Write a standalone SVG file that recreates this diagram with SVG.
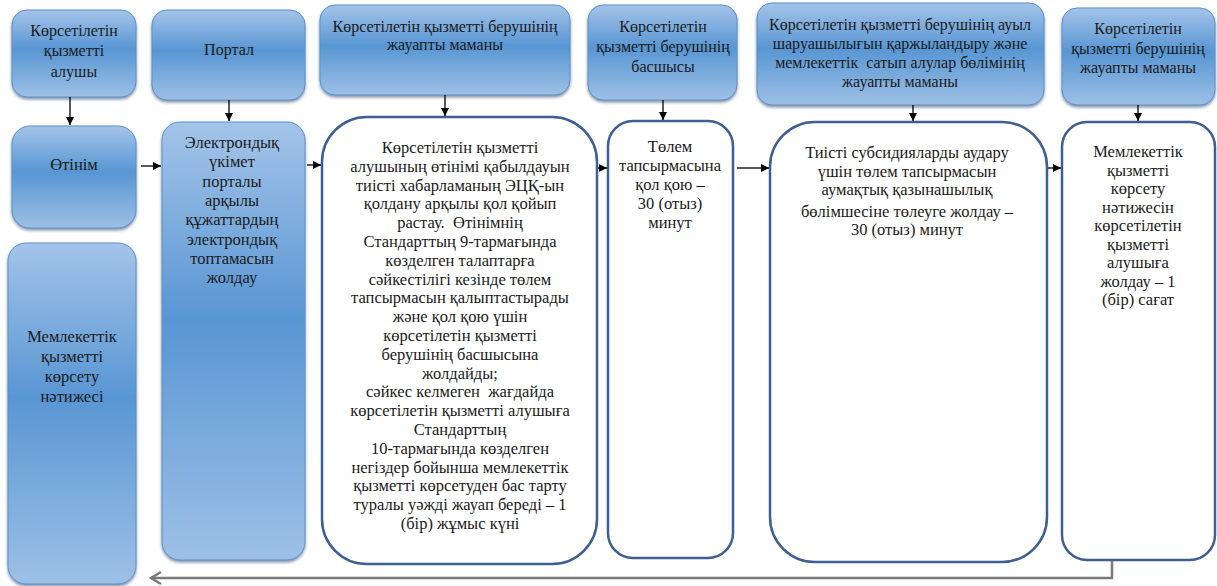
<svg xmlns="http://www.w3.org/2000/svg" width="1217" height="586" viewBox="0 0 1217 586">
<defs>
<linearGradient id="blue" x1="0" y1="0" x2="0" y2="1">
<stop offset="0" stop-color="#a4c4e9"/>
<stop offset="0.45" stop-color="#5896d3"/>
<stop offset="1" stop-color="#9dc0e6"/>
</linearGradient>
<filter id="sh" x="-10%" y="-10%" width="120%" height="120%">
<feDropShadow dx="0" dy="2" stdDeviation="1.5" flood-color="#2a4a70" flood-opacity="0.6"/>
</filter>
<marker id="ah" viewBox="0 0 10 10" refX="10" refY="5" markerWidth="8" markerHeight="8" markerUnits="userSpaceOnUse" orient="auto">
<path d="M0,0 L10,5 L0,10 z" fill="#000"/>
</marker>
</defs>
<style>
.b{fill:url(#blue);stroke:#5d8fc8;stroke-width:1;filter:url(#sh)}
.w{fill:#fff;stroke:#3d5f93;stroke-width:2.5}
text{font-family:"Liberation Serif","Times New Roman",serif;font-size:16.5px;fill:#1a1a1a;text-anchor:middle;white-space:pre}
.hd text{font-size:16px}
.c{stroke:#000;stroke-width:1.3;fill:none;marker-end:url(#ah)}
.r{stroke:#7a7a7a;stroke-width:2.5;fill:none}
</style>
<rect width="1217" height="586" fill="#fff"/>
<g class="hd">
<g id="h1"><rect class="b" x="12" y="10" width="124" height="87" rx="15"/>
<text x="74" y="36">Көрсетілетін</text><text x="74" y="56">қызметті</text><text x="74" y="77">алушы</text></g>
<g id="h2"><rect class="b" x="152" y="10" width="153" height="90" rx="15"/>
<text x="229" y="55">Портал</text></g>
<g id="h3"><rect class="b" x="320" y="5" width="250" height="90" rx="15"/>
<text x="445" y="32">Көрсетілетін қызметті берушінің</text><text x="445" y="50">жауапты маманы</text></g>
<g id="h4"><rect class="b" x="588" y="5" width="149" height="95" rx="15"/>
<text x="663" y="32">Көрсетілетін</text><text x="663" y="52">қызметті берушінің</text><text x="663" y="72">басшысы</text></g>
<g id="h5"><rect class="b" x="757" y="3" width="287" height="102" rx="15"/>
<text x="900" y="30">Көрсетілетін қызметті берушінің ауыл</text><text x="900" y="49">шаруашылығын қаржыландыру және</text><text x="900" y="68">мемлекеттік  сатып алулар бөлімінің</text><text x="900" y="87">жауапты маманы</text></g>
<g id="h6"><rect class="b" x="1062" y="8" width="153" height="97" rx="15"/>
<text x="1138" y="34">Көрсетілетін</text><text x="1138" y="54">қызметті берушінің</text><text x="1138" y="73">жауапты маманы</text></g>
</g>
<g id="n1"><rect class="b" x="12" y="126" width="124" height="102" rx="18"/>
<text x="74" y="170">Өтінім</text></g>
<g id="n2"><rect class="b" x="8" y="243" width="128" height="341" rx="18"/>
<text x="72" y="342">Мемлекеттік</text><text x="72" y="362">қызметті</text><text x="72" y="382">көрсету</text><text x="72" y="402">нәтижесі</text></g>
<g id="n3"><rect class="b" x="162" y="122" width="143" height="438" rx="18"/>
<text x="232" y="148">Электрондық</text><text x="232" y="167">үкімет</text><text x="232" y="187">порталы</text><text x="232" y="206">арқылы</text><text x="232" y="225">құжаттардың</text><text x="232" y="245">электрондық</text><text x="232" y="264">топтамасын</text><text x="232" y="283">жолдау</text></g>
<g id="n4"><rect class="w" x="322" y="117" width="275" height="447" rx="45"/>
<text x="460" y="153">Көрсетілетін қызметті</text>
<text x="460" y="171.8">алушының өтінімі қабылдауын</text>
<text x="460" y="190.6">тиісті хабарламаның ЭЦҚ-ын</text>
<text x="460" y="209.4">қолдану арқылы қол қойып</text>
<text x="460" y="228.2">растау.  Өтінімнің</text>
<text x="460" y="247">Стандарттың 9-тармағында</text>
<text x="460" y="265.8">көзделген талаптарға</text>
<text x="460" y="284.6">сәйкестілігі кезінде төлем</text>
<text x="460" y="303.4">тапсырмасын қалыптастырады</text>
<text x="460" y="322.2">және қол қою үшін</text>
<text x="460" y="341">көрсетілетін қызметті</text>
<text x="460" y="359.8">берушінің басшысына</text>
<text x="460" y="378.6">жолдайды;</text>
<text x="460" y="397.4">сәйкес келмеген  жағдайда</text>
<text x="460" y="416.2">көрсетілетін қызметті алушыға</text>
<text x="460" y="435">Стандарттың</text>
<text x="460" y="453.8">10-тармағында көзделген</text>
<text x="460" y="472.6">негіздер бойынша мемлекеттік</text>
<text x="460" y="491.4">қызметті көрсетуден бас тарту</text>
<text x="460" y="510.2">туралы уәжді жауап береді – 1</text>
<text x="460" y="529">(бір) жұмыс күні</text></g>
<g id="n5"><rect class="w" x="608" y="121" width="125" height="437" rx="25"/>
<text x="670" y="152">Төлем</text><text x="670" y="171">тапсырмасына</text><text x="670" y="190">қол қою –</text><text x="670" y="209">30 (отыз)</text><text x="670" y="228">минут</text></g>
<g id="n6"><rect class="w" x="770" y="122" width="277" height="440" rx="45"/>
<text x="907" y="158">Тиісті субсидияларды аудару</text><text x="907" y="177">үшін төлем тапсырмасын</text><text x="907" y="195">аумақтық қазынашылық</text><text x="907" y="217">бөлімшесіне төлеуге жолдау –</text><text x="907" y="235">30 (отыз) минут</text></g>
<g id="n7"><rect class="w" x="1062" y="122" width="153" height="438" rx="25"/>
<text x="1138" y="157">Мемлекеттік</text><text x="1138" y="175.5">қызметті</text><text x="1138" y="194">көрсету</text><text x="1138" y="212.5">нәтижесін</text><text x="1138" y="231">көрсетілетін</text><text x="1138" y="249.5">қызметті</text><text x="1138" y="268">алушыға</text><text x="1138" y="286.5">жолдау – 1</text><text x="1138" y="305">(бір) сағат</text></g>
<g id="connectors">
<line class="c" x1="70" y1="97" x2="70" y2="125"/>
<line class="c" x1="229" y1="100" x2="229" y2="121"/>
<line class="c" x1="445" y1="95" x2="445" y2="116"/>
<line class="c" x1="663" y1="100" x2="663" y2="120"/>
<line class="c" x1="913" y1="105" x2="913" y2="121"/>
<line class="c" x1="1138" y1="105" x2="1138" y2="121"/>
<line class="c" x1="141" y1="166" x2="161" y2="166"/>
<line class="c" x1="307" y1="165" x2="321" y2="165"/>
<line class="c" x1="598" y1="168" x2="607" y2="168"/>
<line class="c" x1="737" y1="168" x2="769" y2="168"/>
<line class="c" x1="1048" y1="168" x2="1061" y2="168"/>
<path class="r" d="M1112,561 V578 H151"/>
<polyline class="r" points="161,572 151,578 161,584" stroke-width="1.8"/>
</g>
</svg>
